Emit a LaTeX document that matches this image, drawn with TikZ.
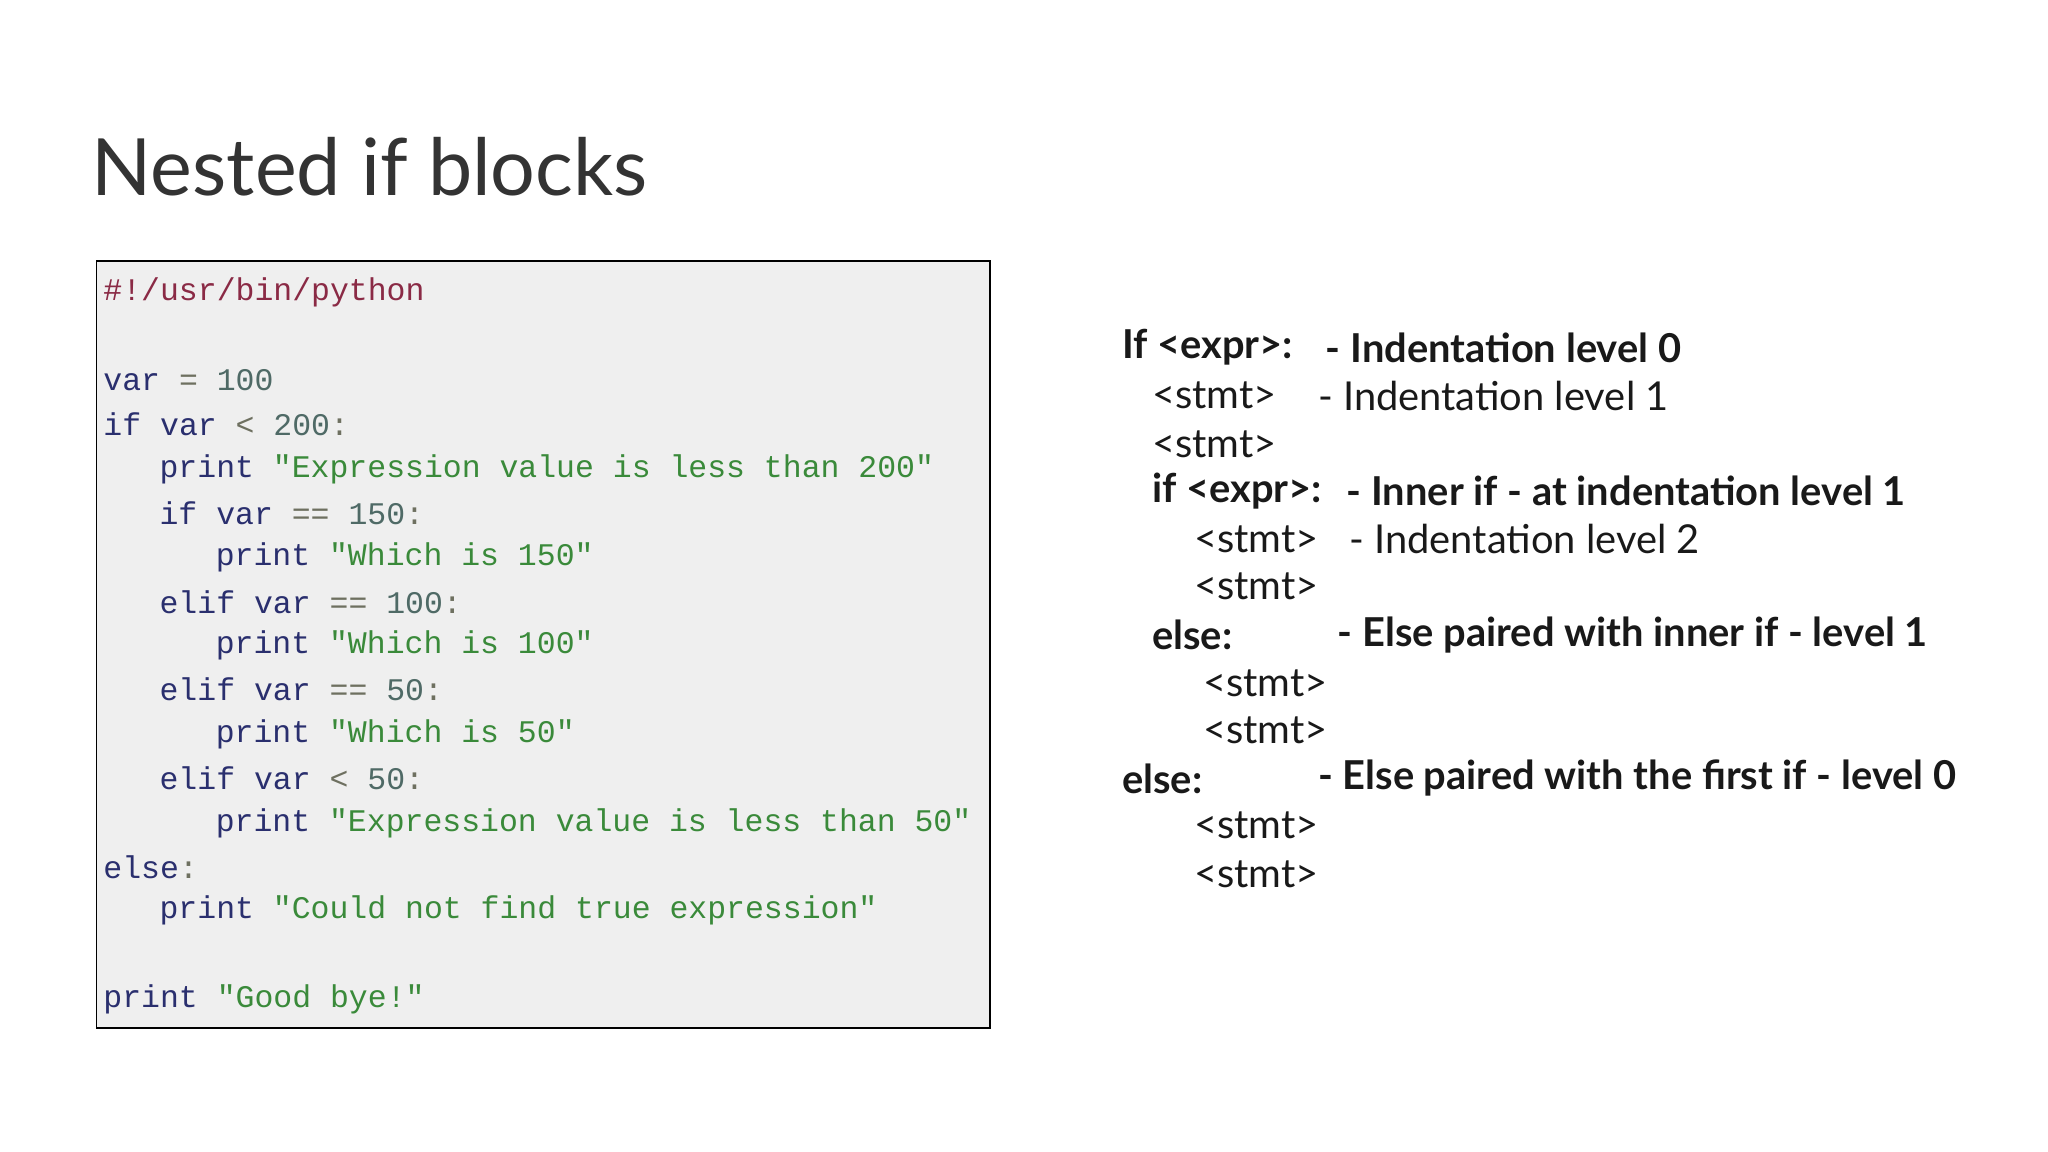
\documentclass[tikz,border=0pt]{standalone}
\usepackage{fontspec}
\setmainfont{Lato}
\setmonofont{Liberation Mono}
\definecolor{kw}{HTML}{2A2F6E}
\definecolor{op}{HTML}{6E7060}
\definecolor{num}{HTML}{4F6A66}
\definecolor{str}{HTML}{3A8A3A}
\definecolor{sheb}{HTML}{8A2A45}
\definecolor{codebg}{HTML}{EFEFEF}
\newcommand{\K}[1]{\textcolor{kw}{#1}}
\newcommand{\Op}[1]{\textcolor{op}{#1}}
\newcommand{\N}[1]{\textcolor{num}{#1}}
\newcommand{\St}[1]{\textcolor{str}{#1}}
\begin{document}
\begin{tikzpicture}[x=1pt,y=-1pt,
  code/.style={anchor=west,inner sep=0pt,font=\fontsize{24.1}{26}\selectfont\ttfamily},
  rt/.style={anchor=west,inner sep=0pt,font=\fontsize{30.5}{32}\selectfont,text=black!90},
  rtb/.style={rt,font=\fontsize{30.5}{32}\selectfont\bfseries}]
\useasboundingbox (0,0) rectangle (1568,882);
\node[anchor=west,inner sep=0pt,font=\fontsize{60.5}{66}\selectfont,text=black!80] (title) at (70,128) {Nested if blocks};
\draw[line width=1.2pt,fill=codebg] (74,200) rectangle (758,787);
\def\a{79}\def\b{122}\def\c{165}
\node[code] (l1) at (\a,224) {\textcolor{sheb}{\#!/usr/bin/python}};
\node[code] (l2) at (\a,291) {\K{var} \Op{=} \N{100}};
\node[code] (l3) at (\a,325) {\K{if} \K{var} \Op{<} \N{200}\Op{:}};
\node[code] (l4) at (\b,359) {\K{print} \St{"Expression value is less than 200"}};
\node[code] (l5) at (\b,393) {\K{if} \K{var} \Op{==} \N{150}\Op{:}};
\node[code] (l6) at (\c,427) {\K{print} \St{"Which is 150"}};
\node[code] (l7) at (\b,461) {\K{elif} \K{var} \Op{==} \N{100}\Op{:}};
\node[code] (l8) at (\c,494) {\K{print} \St{"Which is 100"}};
\node[code] (l9) at (\b,528) {\K{elif} \K{var} \Op{==} \N{50}\Op{:}};
\node[code] (l10) at (\c,562) {\K{print} \St{"Which is 50"}};
\node[code] (l11) at (\b,596) {\K{elif} \K{var} \Op{<} \N{50}\Op{:}};
\node[code] (l12) at (\c,630) {\K{print} \St{"Expression value is less than 50"}};
\node[code] (l13) at (\a,664) {\K{else}\Op{:}};
\node[code] (l14) at (\b,697) {\K{print} \St{"Could not find true expression"}};
\node[code] (l15) at (\a,765) {\K{print} \St{"Good bye!"}};
% right side
\node[rtb] (r1) at (859,266) {If <expr>:};
\node[rtb] (r1b) at (1015,266) {- Indentation level 0};
\node[rt] (r2) at (882,303) {<stmt>};
\node[rt] (r2b) at (1009,303) {- Indentation level 1};
\node[rt] (r3) at (882,340) {<stmt>};
\node[rtb] (r4) at (882,376) {if <expr>:};
\node[rtb] (r4b) at (1031,376) {- Inner if - at indentation level 1};
\node[rt] (r5) at (914,413) {<stmt>};
\node[rt] (r5b) at (1033,413) {- Indentation level 2};
\node[rt] (r6) at (914,449) {<stmt>};
\node[rtb] (r7) at (882,486) {else:};
\node[rtb] (r7b) at (1024,486) {- Else paired with inner if - level 1};
\node[rt] (r8) at (921,523) {<stmt>};
\node[rt] (r9) at (921,559) {<stmt>};
\node[rtb] (r10) at (859,596) {else:};
\node[rtb] (r10b) at (1009,596) {- Else paired with the first if - level 0};
\node[rt] (r11) at (914,632) {<stmt>};
\node[rt] (r12) at (914,669) {<stmt>};
\end{tikzpicture}
\end{document}
